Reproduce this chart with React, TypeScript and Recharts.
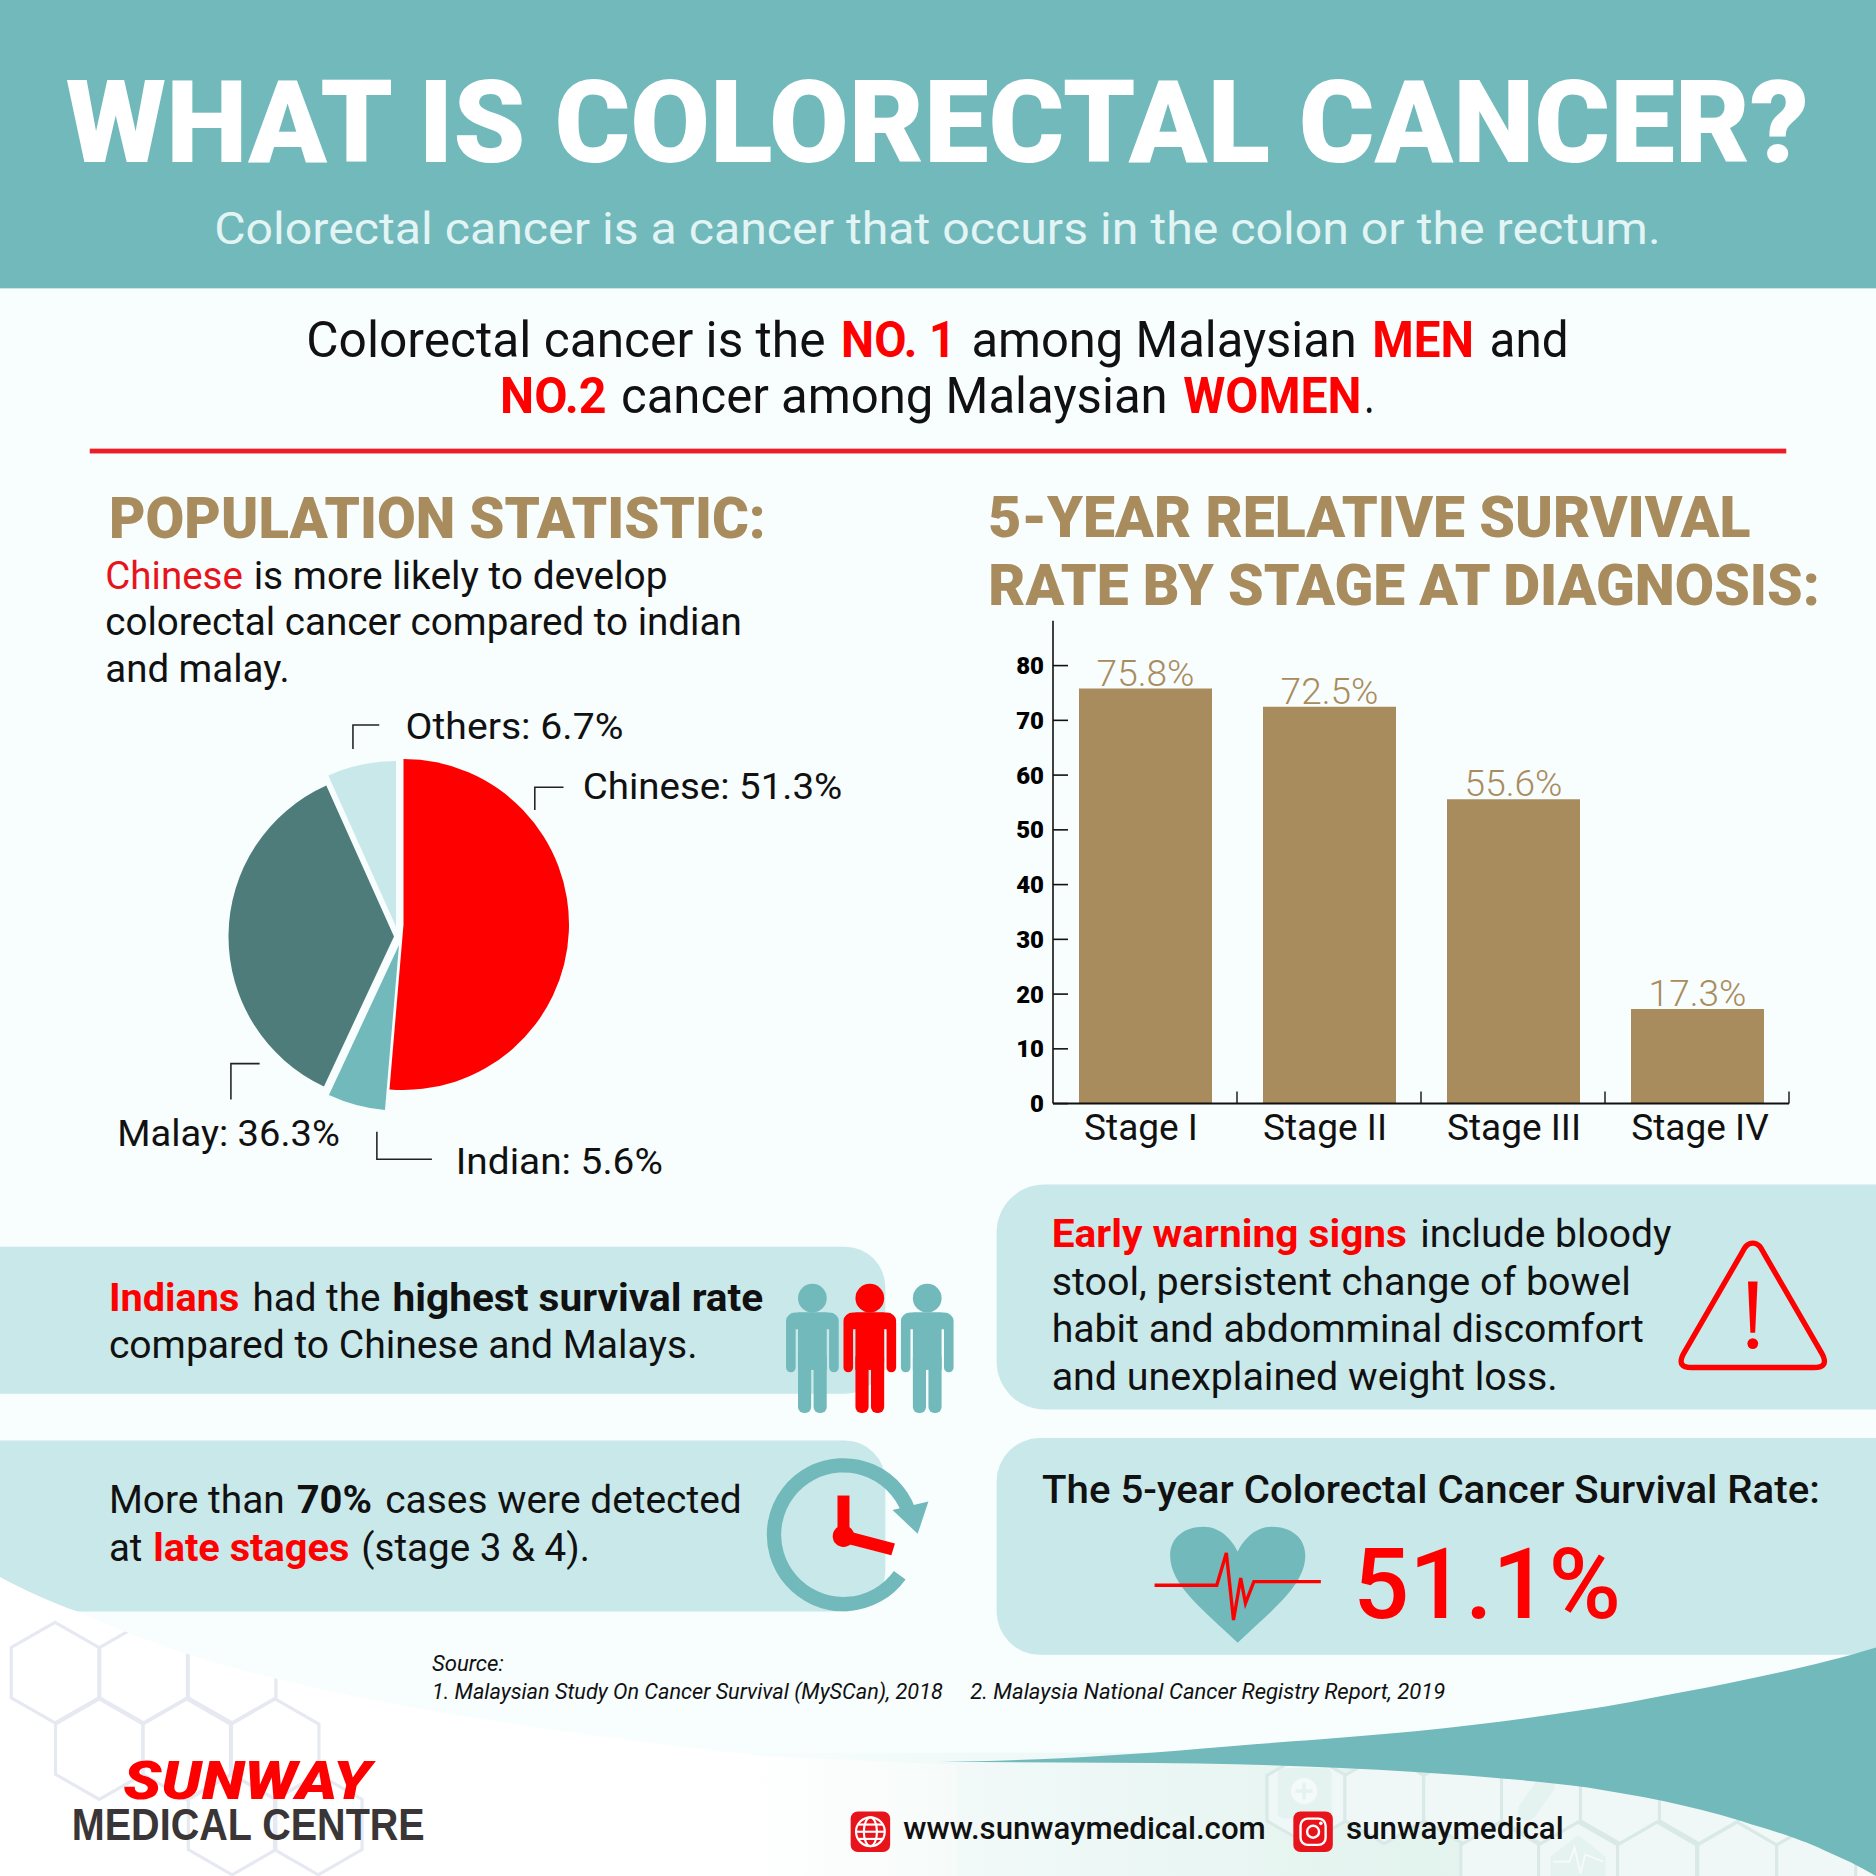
// App.tsx - colorectal cancer infographic (Recharts for the pie and the bars, plain svg around them)
import { BarChart, Bar, XAxis, YAxis, LabelList, PieChart, Pie, Cell, Sector } from "recharts";

const stages = ["Stage I", "Stage II", "Stage III", "Stage IV"];
const survival = [75.8, 72.5, 55.6, 17.3];
const yTicks = [0, 10, 20, 30, 40, 50, 60, 70, 80];

const groups = ["Chinese", "Indian", "Malay", "Others"];
const shares = [51.3, 5.6, 36.3, 6.7];

const barData = stages.map((stage, i) => ({ stage, rate: survival[i] }));
const pieData = groups.map((name, i) => ({ name, value: shares[i] }));

// the slices are pulled apart a little in the original
const sliceColors = ["#ff0000", "#71b9bb", "#4d7c7b", "#c9e8ea"];
const sliceShift = [[3.5, -5.5], [-1, 15], [-6, 6.5], [-4, -3.5]];
// stage labels are not quite centred under their bars
const stageNudge = [-4, -4, 1, 3];

const RED = "#ff0000";
const GOLD = "#a88c5d";
const TEAL = "#71b9bb";
const PALE = "#c9e8ea";
const BG = "#f8fdfe";
const BAND = 184;
const FONT = "Roboto, sans-serif";

function PieSlice(props: any) {
  const [dx, dy] = sliceShift[props.index];
  return <Sector {...props} cx={props.cx + dx} cy={props.cy + dy} fill={sliceColors[props.index]} stroke="none" />;
}

function YTick({ x, y, payload }: any) {
  return (
    <g>
      <line x1={x + 9} x2={x + 24} y1={y} y2={y} stroke="#111" strokeWidth={1.6} />
      <text x={x} y={y + 8.5} textAnchor="end" fontFamily={FONT} fontWeight={900} fontSize={24} fill="#000">
        {payload.value}
      </text>
    </g>
  );
}

function XTick({ x, y, payload, index }: any) {
  return (
    <g>
      <line x1={x + BAND / 2} x2={x + BAND / 2} y1={y} y2={y - 12} stroke="#111" strokeWidth={1.4} />
      <text x={x + stageNudge[index]} y={y + 36} textAnchor="middle" fontFamily={FONT} fontWeight={400} fontSize={37} fill="#111">
        {payload.value}
      </text>
    </g>
  );
}

// one run of text, stretched to the measured start and end
function T({ x, to, y, s, w = 400, c = "#111", i, f = FONT, children }: any) {
  return (
    <text
      x={x}
      y={y}
      fontFamily={f}
      fontSize={s}
      fontWeight={w}
      fontStyle={i ? "italic" : "normal"}
      fill={c}
      textLength={to - x}
      lengthAdjust="spacingAndGlyphs"
    >
      {children}
    </text>
  );
}

function Person({ cx, c }: any) {
  return (
    <g fill={c}>
      <circle cx={cx} cy={1085} r={12} />
      <rect x={cx - 22} y={1097} width={44} height={14} rx={8} />
      <rect x={cx - 22} y={1102} width={8} height={45} rx={4} />
      <rect x={cx + 14} y={1102} width={8} height={45} rx={4} />
      <rect x={cx - 12} y={1097} width={24} height={48} />
      <rect x={cx - 12} y={1130} width={11} height={51} rx={5} />
      <rect x={cx + 1} y={1130} width={11} height={51} rx={5} />
    </g>
  );
}

function hexPoints(cx: number, cy: number, w: number, h: number) {
  return [
    [cx, cy - h], [cx + w, cy - h / 2], [cx + w, cy + h / 2], [cx, cy + h], [cx - w, cy + h / 2], [cx - w, cy - h / 2],
  ].map(p => p.join(",")).join(" ");
}

const hexLeft = [[46, 1398], [120, 1398], [194, 1398], [83, 1462], [156, 1462], [230, 1462], [194, 1525], [266, 1525]];
const hexRight = [[1092, 1503], [1157, 1503], [1223, 1503], [1288, 1503], [1354, 1503], [1420, 1503], [1254, 1561], [1319, 1561], [1385, 1561], [1452, 1561], [1518, 1561]];

const SWEEP =
  "M0,1318 C22,1330 45,1340 65,1347 C110,1367 165,1388 223,1401 C270,1413 320,1423 368,1431 C450,1445 550,1458 640,1468 L800,1475 L800,1568 L0,1568 Z";

function Backdrop() {
  return (
    <svg width={1876} height={1876} viewBox="0 0 1568 1568" style={{ position: "absolute", left: 0, top: 0 }}>
      <defs>
        <linearGradient id="minty" x1="0" y1="0" x2="1" y2="0">
          <stop offset="0%" stopColor="#e3f3ee" stopOpacity={0} />
          <stop offset="60%" stopColor="#e3f3ee" />
          <stop offset="100%" stopColor="#f5fbf9" />
        </linearGradient>
        <clipPath id="sweepClip">
          <path d={SWEEP} />
        </clipPath>
      </defs>

      {/* header */}
      <rect x={0} y={0} width={1568} height={241} fill={TEAL} />
      <T x={55} to={1512} y={135} s={96} w={900} c="#fff">WHAT IS COLORECTAL CANCER?</T>
      <T x={179} to={1388} y={204} s={37} c="#e2f4f4">Colorectal cancer is a cancer that occurs in the colon or the rectum.</T>

      {/* intro */}
      <T x={256} to={690} y={298} s={41}>Colorectal cancer is the</T>
      <T x={703} to={799} y={298} s={41} w={700} c={RED}>NO. 1</T>
      <T x={812} to={1134} y={298} s={41}>among Malaysian</T>
      <T x={1147} to={1232} y={298} s={41} w={700} c={RED}>MEN</T>
      <T x={1245} to={1311} y={298} s={41}>and</T>
      <T x={418} to={507} y={345} s={41} w={700} c={RED}>NO.2</T>
      <T x={519} to={976} y={345} s={41}>cancer among Malaysian</T>
      <T x={989} to={1138} y={345} s={41} w={700} c={RED}>WOMEN</T>
      <T x={1140} to={1149} y={345} s={41}>.</T>
      <rect x={75} y={375} width={1418} height={4} fill="#ee1c25" />

      {/* section titles */}
      <T x={91} to={640} y={450} s={48} w={900} c={GOLD}>POPULATION STATISTIC:</T>
      <T x={826} to={1463} y={449} s={48} w={900} c={GOLD}>5-YEAR RELATIVE SURVIVAL</T>
      <T x={826} to={1521} y={506} s={48} w={900} c={GOLD}>RATE BY STAGE AT DIAGNOSIS:</T>

      <T x={88} to={203} y={492} s={33} c="#e8141c">Chinese</T>
      <T x={212} to={558} y={492} s={33}>is more likely to develop</T>
      <T x={88} to={620} y={531} s={33}>colorectal cancer compared to indian</T>
      <T x={88} to={242} y={570} s={33}>and malay.</T>

      {/* pie labels */}
      <T x={339} to={521} y={618} s={31}>Others: 6.7%</T>
      <T x={487} to={704} y={668} s={31}>Chinese: 51.3%</T>
      <T x={98} to={284} y={958} s={31}>Malay: 36.3%</T>
      <T x={381} to={554} y={981} s={31}>Indian: 5.6%</T>
      <g fill="none" stroke="#222" strokeWidth={1.3}>
        <polyline points="295,626 295,606 317,606" />
        <polyline points="447,677 447,658 471,658" />
        <polyline points="193,919 193,889 217,889" />
        <polyline points="315,946 315,969 361,969" />
      </g>

      {/* left panels */}
      <rect x={-60} y={1042} width={800} height={123} rx={34} fill={PALE} />
      <rect x={-60} y={1204} width={800} height={143} rx={34} fill={PALE} />

      {/* right panels */}
      <rect x={833} y={990} width={800} height={188} rx={40} fill={PALE} />
      <rect x={833} y={1202} width={800} height={181} rx={36} fill={PALE} />

      {/* lower left white sweep with the hexagons */}
      <path d={SWEEP} fill="#ffffff" />
      <g fill="none" stroke="#e6e8f2" strokeWidth={2.6} clipPath="url(#sweepClip)">
        {hexLeft.map((h, i) => <polygon key={i} points={hexPoints(h[0], h[1], 36.6, 42)} />)}
      </g>

      {/* lower right */}
      <rect x={620} y={1465} width={948} height={103} fill="url(#minty)" />
      <g fill="#eff8f6" stroke="#d9e9e8" strokeWidth={2.6}>
        {hexRight.map((h, i) => <polygon key={i} points={hexPoints(h[0], h[1], 33, 38)} />)}
      </g>
      <g fill="#e4f2f0">
        <rect x={1068} y={1478} width={45} height={42} rx={5} />
        <rect x={1276} y={1482} width={16} height={42} rx={8} transform="rotate(35 1284 1503)" />
        <path d="M1319,1534 L1342,1552 L1342,1568 L1296,1568 L1296,1552 Z" />
      </g>
      <circle cx={1090} cy={1497} r={11} fill="#f4faf9" />
      <path d="M1090,1490 V1504 M1083,1497 H1097" stroke="#e4f2f0" strokeWidth={3} />
      <polyline points="1298,1556 1312,1556 1316,1544 1321,1566 1325,1550 1340,1556" fill="none" stroke="#f6fbfa" strokeWidth={1.6} />
      <path
        d="M785,1472.5 C850,1472 930,1468 1003,1461.6 C1070,1456 1130,1452 1183,1447 C1250,1440 1310,1432 1363,1422.5 C1430,1410 1510,1395 1568,1377 L1568,1568 C1555,1560 1540,1553 1525,1546.6 C1500,1535 1480,1530 1454,1521.6 C1410,1508 1370,1501 1327,1494 C1280,1488 1230,1484 1183,1481 C1120,1477 1060,1475 1003,1474 C930,1473 860,1473 785,1472.5 Z"
        fill={TEAL}
      />

      {/* panel texts */}
      <T x={91} to={200} y={1096} s={33} w={700} c={RED}>Indians</T>
      <T x={211} to={318} y={1096} s={33}>had the</T>
      <T x={328} to={638} y={1096} s={33} w={700}>highest survival rate</T>
      <T x={91} to={583} y={1135} s={33}>compared to Chinese and Malays.</T>

      <T x={91} to={238} y={1265} s={33}>More than</T>
      <T x={248} to={311} y={1265} s={33} w={700}>70%</T>
      <T x={322} to={620} y={1265} s={33}>cases were detected</T>
      <T x={91} to={119} y={1305} s={33}>at</T>
      <T x={128} to={292} y={1305} s={33} w={700} c={RED}>late stages</T>
      <T x={302} to={493} y={1305} s={33}>(stage 3 &amp; 4).</T>

      <T x={879} to={1176} y={1042} s={33} w={700} c={RED}>Early warning signs</T>
      <T x={1187} to={1397} y={1042} s={33}>include bloody</T>
      <T x={879} to={1363} y={1082} s={33}>stool, persistent change of bowel</T>
      <T x={879} to={1374} y={1122} s={33}>habit and abdomminal discomfort</T>
      <T x={879} to={1302} y={1162} s={33}>and unexplained weight loss.</T>

      <T x={871} to={1521} y={1256} s={33} w={500}>The 5-year Colorectal Cancer Survival Rate:</T>
      <T x={1131} to={1355} y={1352} s={82} w={500} c={RED}>51.1%</T>

      {/* people */}
      <Person cx={679} c={TEAL} />
      <Person cx={727} c={RED} />
      <Person cx={775} c={TEAL} />

      {/* clock */}
      <path d="M752,1316.6 A58,58 0 1 1 761,1268" fill="none" stroke={TEAL} strokeWidth={12} />
      <polygon points="746,1262 776,1255 767,1282" fill={TEAL} />
      <rect x={700} y={1250} width={10} height={34} fill={RED} />
      <circle cx={705} cy={1284} r={9} fill={RED} />
      <polygon points="706,1279 748,1290 745,1300 703,1289" fill={RED} />

      {/* warning sign */}
      <path
        d="M1465,1039 C1460,1039 1458,1043 1456,1047 L1408,1130 C1402,1140 1406,1143 1414,1143 L1516,1143 C1524,1143 1528,1140 1522,1130 L1474,1047 C1472,1043 1470,1039 1465,1039 Z"
        fill="none" stroke={RED} strokeWidth={4.5}
      />
      <polygon points="1461,1071 1469,1071 1467,1114 1463,1114" fill={RED} />
      <circle cx={1465} cy={1123} r={4.5} fill={RED} />

      {/* heart */}
      <path d="M1034.5,1373 C1005,1345 978,1325 978,1300 C978,1285 990,1276 1006,1276 C1020,1276 1030,1287 1034.5,1297 C1039,1287 1049,1276 1063,1276 C1079,1276 1091,1285 1091,1300 C1091,1325 1064,1345 1034.5,1373 Z" fill={TEAL} />
      <polyline points="965,1325 1017,1325 1025,1298 1031,1354 1037,1319 1041,1340 1048,1322 1104,1322" fill="none" stroke={RED} strokeWidth={2.8} />

      {/* source */}
      <T x={361} to={421} y={1397} s={18} i>Source:</T>
      <T x={361} to={788} y={1420} s={18} i>1. Malaysian Study On Cancer Survival (MySCan), 2018</T>
      <T x={811} to={1208} y={1420} s={18} i>2. Malaysia National Cancer Registry Report, 2019</T>

      {/* logo */}
      <T x={103} to={310} y={1504} s={45} w={900} i c={RED}>SUNWAY</T>
      <T x={60} to={355} y={1538} s={37} w={700} c="#3a3536" f="Liberation Sans">MEDICAL CENTRE</T>

      {/* contact */}
      <rect x={711} y={1514} width={33} height={34} rx={6} fill="#e8141c" />
      <g fill="none" stroke="#fff" strokeWidth={1.8}>
        <circle cx={727.5} cy={1531} r={12} />
        <ellipse cx={727.5} cy={1531} rx={5.5} ry={12} />
        <line x1={715.5} x2={739.5} y1={1531} y2={1531} />
        <line x1={717} x2={738} y1={1525} y2={1525} />
        <line x1={717} x2={738} y1={1537} y2={1537} />
      </g>
      <T x={755} to={1058} y={1537} s={26} w={500}>www.sunwaymedical.com</T>
      <rect x={1081} y={1514} width={33} height={34} rx={6} fill="#e8141c" />
      <g fill="none" stroke="#fff" strokeWidth={2}>
        <rect x={1087} y={1520} width={21} height={22} rx={6} />
        <circle cx={1097.5} cy={1531} r={5} />
      </g>
      <circle cx={1104} cy={1524} r={1.5} fill="#fff" />
      <T x={1125} to={1307} y={1537} s={26} w={500}>sunwaymedical</T>
    </svg>
  );
}

export default function App() {
  return (
    <div style={{ position: "absolute", left: 0, top: 0, width: 1876, height: 1876, overflow: "hidden", background: BG, fontFamily: FONT }}>
      <Backdrop />

      <div style={{ position: "absolute", left: 200, top: 740 }}>
        <PieChart width={400} height={400} margin={{ top: 0, right: 0, bottom: 0, left: 0 }}>
          <Pie
            data={pieData}
            dataKey="value"
            nameKey="name"
            cx={200}
            cy={190}
            outerRadius={165.5}
            startAngle={90}
            endAngle={-270}
            stroke="none"
            isAnimationActive={false}
            shape={PieSlice}
          >
            {pieData.map((d, i) => <Cell key={d.name} fill={sliceColors[i]} />)}
          </Pie>
        </PieChart>
      </div>

      <div style={{ position: "absolute", left: 960, top: 600 }}>
        <BarChart width={860} height={560} data={barData} margin={{ top: 20.7, right: 31, bottom: 0, left: 0 }}>
          <XAxis
            dataKey="stage"
            height={56.4}
            interval={0}
            tickSize={0}
            tickMargin={0}
            tickLine={false}
            axisLine={{ stroke: "#111", strokeWidth: 2 }}
            tick={XTick}
          />
          <YAxis
            width={93}
            domain={[0, 88.2]}
            ticks={yTicks}
            interval={0}
            tickSize={0}
            tickMargin={9}
            tickLine={false}
            axisLine={{ stroke: "#111", strokeWidth: 1.6 }}
            tick={YTick}
          />
          <Bar dataKey="rate" fill={GOLD} barSize={133} isAnimationActive={false}>
            <LabelList
              dataKey="rate"
              position="top"
              offset={3}
              formatter={(v: number) => `${v}%`}
              fill={GOLD}
              fontSize={37}
              fontWeight={300}
              fontFamily={FONT}
            />
          </Bar>
        </BarChart>
      </div>
    </div>
  );
}
